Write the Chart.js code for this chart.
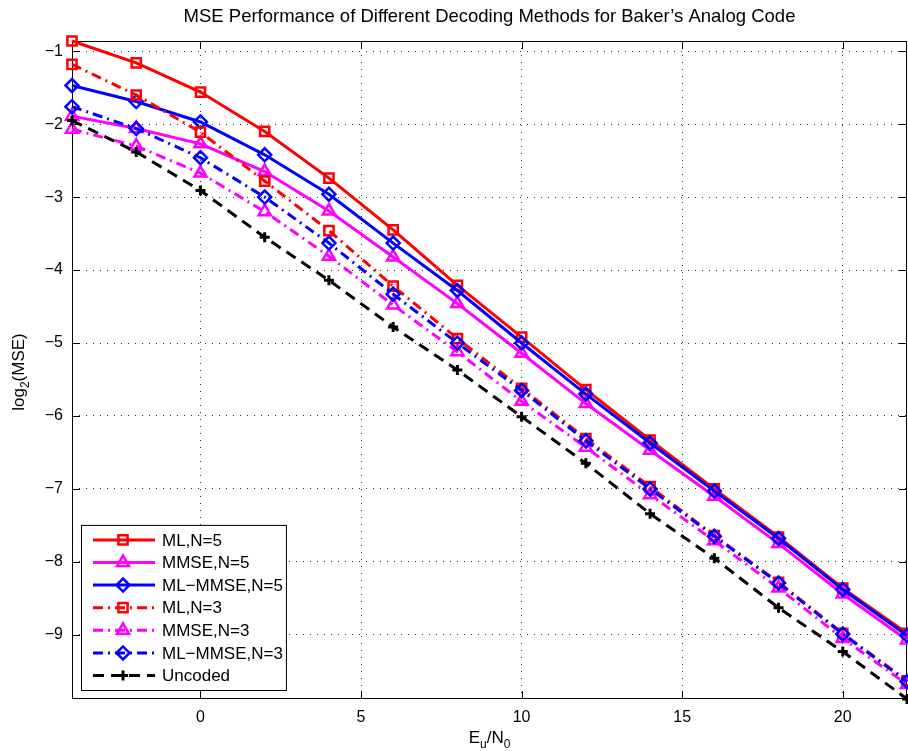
<!DOCTYPE html>
<html>
<head>
<meta charset="utf-8">
<script src="https://cdn.jsdelivr.net/npm/chart.js@4.4.1/dist/chart.umd.min.js"></script>
<style>
  body { margin: 0; background: #fff; }
  canvas { display: block; }
</style>
</head>
<body>
<canvas id="mse" width="908" height="751"></canvas>
<script>
// Eu/N0 points and log2(MSE) curves
var snr = [-4, -2, 0, 2, 4, 6, 8, 10, 12, 14, 16, 18, 20, 22];
var mlN5 = [-0.86, -1.16, -1.56, -2.10, -2.74, -3.45, -4.21, -4.92, -5.64, -6.33, -7.00, -7.66, -8.36, -8.98];
var mmseN5 = [-1.89, -2.06, -2.27, -2.65, -3.19, -3.82, -4.46, -5.14, -5.83, -6.47, -7.10, -7.75, -8.44, -9.07];
var mlMmseN5 = [-1.47, -1.69, -1.97, -2.42, -2.96, -3.63, -4.28, -5.00, -5.70, -6.37, -7.03, -7.68, -8.38, -9.01];
var mlN3 = [-1.18, -1.60, -2.11, -2.78, -3.46, -4.22, -4.94, -5.62, -6.31, -6.97, -7.64, -8.28, -8.98, -9.63];
var mmseN3 = [-2.07, -2.30, -2.67, -3.20, -3.81, -4.48, -5.12, -5.80, -6.43, -7.08, -7.71, -8.36, -9.05, -9.68];
var mlMmseN3 = [-1.76, -2.06, -2.46, -3.00, -3.63, -4.33, -5.00, -5.65, -6.34, -7.00, -7.65, -8.29, -8.99, -9.64];
var uncoded = [-1.95, -2.38, -2.91, -3.55, -4.14, -4.78, -5.37, -6.01, -6.65, -7.34, -7.95, -8.63, -9.23, -9.88];

var xTicks = [0, 5, 10, 15, 20];
var yTicks = [-9, -8, -7, -6, -5, -4, -3, -2, -1];

var FONT = '"Liberation Sans", Arial, Helvetica, sans-serif';
var SOLID = [];
var DASHDOT = [10, 5, 2, 5];
var DASHED = [11, 7];
var PLOT_RIGHT = 907;

function makeSet(label, values, color, dash, marker, radius) {
  return {
    label: label,
    data: values.map(function(v, i) { return {x: snr[i], y: v}; }),
    borderColor: color,
    borderWidth: 3,
    borderDash: dash,
    pointStyle: marker,
    pointRadius: radius,
    pointBorderWidth: marker == 'cross' ? 3 : 2.5,
    pointBorderColor: color,
    pointBackgroundColor: 'rgba(0,0,0,0)',
    fill: false,
    tension: 0,
    clip: false
  };
}

var sets = [
  makeSet('ML,N=5', mlN5, '#ff0000', SOLID, 'rect', 6.5),
  makeSet('MMSE,N=5', mmseN5, '#ff00ff', SOLID, 'triangle', 7),
  makeSet('ML\u2212MMSE,N=5', mlMmseN5, '#0000ff', SOLID, 'rectRot', 6.5),
  makeSet('ML,N=3', mlN3, '#ff0000', DASHDOT, 'rect', 6.5),
  makeSet('MMSE,N=3', mmseN3, '#ff00ff', DASHDOT, 'triangle', 7),
  makeSet('ML\u2212MMSE,N=3', mlMmseN3, '#0000ff', DASHDOT, 'rectRot', 6.5),
  makeSet('Uncoded', uncoded, '#000000', DASHED, 'cross', 5)
];
// later series on top, like the original plot
sets.forEach(function(s, i) { s.order = sets.length - i; });

// box, inward ticks, legend and axis titles
var matlabAxes = {
  id: 'matlabAxes',
  afterLayout: function(chart) {
    // stretch the plot box to the right edge of the figure
    var a = chart.chartArea, xs = chart.scales.x;
    if (a.right < PLOT_RIGHT) {
      a.right = PLOT_RIGHT;
      a.width = a.right - a.left;
      xs.right = PLOT_RIGHT;
      xs.width = xs.right - xs.left;
      xs.configure();
      var t = chart.titleBlock;
      if (t) { t.left = a.left; t.right = a.right; t.width = a.width; }
    }
  },
  beforeDatasetsDraw: function(chart) {
    var ctx = chart.ctx, a = chart.chartArea;
    var xs = chart.scales.x, ys = chart.scales.y, t = 8;
    ctx.save();
    ctx.strokeStyle = '#000';
    ctx.lineWidth = 1;
    ctx.strokeRect(a.left + 0.5, a.top + 0.5, a.right - a.left - 1, a.bottom - a.top - 1);
    ctx.beginPath();
    xs.ticks.forEach(function(tk) {
      var px = Math.round(xs.getPixelForValue(tk.value)) + 0.5;
      ctx.moveTo(px, a.bottom); ctx.lineTo(px, a.bottom - t);
      ctx.moveTo(px, a.top); ctx.lineTo(px, a.top + t);
    });
    ys.ticks.forEach(function(tk) {
      var py = Math.round(ys.getPixelForValue(tk.value)) + 0.5;
      ctx.moveTo(a.left, py); ctx.lineTo(a.left + t, py);
      ctx.moveTo(a.right, py); ctx.lineTo(a.right - t, py);
    });
    ctx.stroke();
    ctx.restore();
  },
  afterDatasetsDraw: function(chart) {
    var ctx = chart.ctx, a = chart.chartArea;
    var ds = chart.data.datasets;
    var rowH = 22.6;
    ctx.save();
    ctx.font = '17px ' + FONT;
    var w = 0;
    ds.forEach(function(s) { w = Math.max(w, ctx.measureText(s.label).width); });
    var bx = a.left + 9, bh = rowH * (ds.length - 1) + 29.5;
    var by = a.bottom - 9 - bh;
    var bw = 81 + w + 3;
    ctx.fillStyle = '#fff';
    ctx.fillRect(bx, by, bw, bh);
    ctx.strokeStyle = '#000';
    ctx.lineWidth = 1;
    ctx.strokeRect(bx + 0.5, by + 0.5, bw, bh);
    ds.forEach(function(s, i) {
      var cy = by + 15 + i * rowH;
      ctx.strokeStyle = s.borderColor;
      ctx.lineWidth = s.borderWidth;
      ctx.setLineDash(s.borderDash);
      ctx.beginPath();
      ctx.moveTo(bx + 12, cy); ctx.lineTo(bx + 74, cy);
      ctx.stroke();
      ctx.setLineDash([]);
      ctx.lineWidth = s.pointBorderWidth;
      ctx.fillStyle = 'rgba(0,0,0,0)';
      Chart.helpers.drawPoint(ctx, {pointStyle: s.pointStyle, radius: s.pointRadius,
        borderWidth: s.pointBorderWidth, rotation: 0}, bx + 42, cy);
      ctx.fillStyle = '#000';
      ctx.textBaseline = 'middle';
      ctx.textAlign = 'left';
      ctx.fillText(s.label, bx + 81, cy + 1);
    });
    ctx.restore();
  },
  afterDraw: function(chart) {
    var ctx = chart.ctx, a = chart.chartArea;
    ctx.save();
    ctx.fillStyle = '#000';
    ctx.textBaseline = 'alphabetic';
    // x title: E_u/N_0
    var big = '17px ' + FONT, small = '12px ' + FONT;
    var parts = [['E', big, 0], ['u', small, 5], ['/N', big, 0], ['0', small, 5]];
    var total = 0;
    parts.forEach(function(p) { ctx.font = p[1]; total += ctx.measureText(p[0]).width; });
    var x = (a.left + a.right) / 2 - total / 2, y = 743;
    parts.forEach(function(p) {
      ctx.font = p[1];
      ctx.fillText(p[0], x, y + p[2]);
      x += ctx.measureText(p[0]).width;
    });
    // y title: log_2(MSE)
    ctx.translate(24, (a.top + a.bottom) / 2 + 2);
    ctx.rotate(-Math.PI / 2);
    parts = [['log', big, 0], ['2', small, 5], ['(MSE)', big, 0]];
    total = 0;
    parts.forEach(function(p) { ctx.font = p[1]; total += ctx.measureText(p[0]).width; });
    x = -total / 2;
    parts.forEach(function(p) {
      ctx.font = p[1];
      ctx.fillText(p[0], x, p[2]);
      x += ctx.measureText(p[0]).width;
    });
    ctx.restore();
  }
};

function minusLabel(v) {
  return v < 0 ? '\u2212' + Math.abs(v) : '' + v;
}

function noPad(scale) {
  scale.paddingLeft = 0;
  scale.paddingRight = 0;
  scale.paddingTop = 0;
  scale.paddingBottom = 0;
}

Chart.defaults.font.family = FONT;
Chart.defaults.color = '#000';

var chart = new Chart('mse', {
  type: 'line',
  data: { datasets: sets },
  options: {
    responsive: false,
    animation: false,
    devicePixelRatio: 1,
    layout: { padding: { top: 0, right: 1, bottom: 0, left: 0 } },
    plugins: {
      legend: { display: false },
      tooltip: { enabled: false },
      title: {
        display: true,
        fullSize: false,
        text: 'MSE Performance of Different Decoding Methods for Baker\u2019s Analog Code',
        color: '#000',
        font: { size: 18.5, weight: 'normal' },
        padding: { top: 6, bottom: 12.8 }
      }
    },
    scales: {
      x: {
        type: 'linear',
        min: -4,
        max: 22,
        afterBuildTicks: function(scale) {
          scale.ticks = xTicks.map(function(v) { return {value: v}; });
        },
        afterFit: function(scale) { scale.height = 52; noPad(scale); },
        grid: { color: '#333', lineWidth: 1, drawTicks: false },
        border: { display: false, dash: [1, 6] },
        ticks: { padding: 9, font: { size: 16 }, maxRotation: 0, callback: minusLabel }
      },
      y: {
        type: 'linear',
        min: -9.88,
        max: -0.86,
        afterBuildTicks: function(scale) {
          scale.ticks = yTicks.map(function(v) { return {value: v}; });
        },
        afterFit: function(scale) { scale.width = 72; noPad(scale); },
        grid: { color: '#333', lineWidth: 1, drawTicks: false },
        border: { display: false, dash: [1, 6] },
        ticks: { padding: 9, font: { size: 16 }, callback: minusLabel }
      }
    }
  },
  plugins: [matlabAxes]
});
</script>
</body>
</html>
